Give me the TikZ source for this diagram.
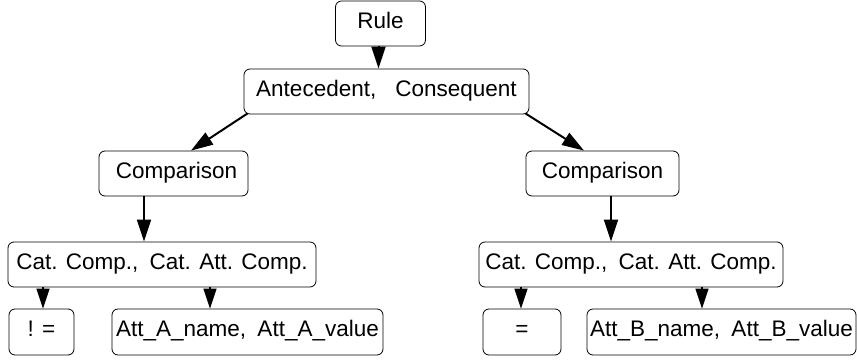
\documentclass[tikz,border=0pt]{standalone}
\usepackage{fontspec}
\setmainfont{Liberation Sans}
\usetikzlibrary{arrows.meta}

\begin{document}
\begin{tikzpicture}
            [x=1pt, y=-1pt,
             box/.style={draw, line width=0.8pt, rounded corners=6pt, inner sep=0pt,
                         minimum height=45pt, text height=15pt, text depth=6pt,
                         font=\fontsize{22.5}{27}\selectfont},
             arr/.style={line width=2pt, -{Triangle[length=22pt, width=14pt]}},
             smallarr/.style={line width=1.5pt, -{Triangle[length=20pt, width=13pt]}}]
            % Fix the page size
            \useasboundingbox (0,0) rectangle (857,362);

            % Place the boxes
            \node[box, minimum width=90pt] (rule) at (380.5, 23.5) {Rule};  % Top box
            \node[box, minimum width=285pt] (ante) at (386.5, 91.5) {Antecedent,\hspace{0.85em}Consequent};
            \node[box, minimum width=149pt] (cmpl) at (173.5, 173.5) {\hspace{6pt}Comparison};  % Left comparison
            \node[box, minimum width=153pt] (cmpr) at (602.5, 173.5) {Comparison\hspace{10pt}};  % Right comparison
            \node[box, minimum width=308pt] (catl) at (162, 264.5) {Cat. Comp.,\hspace{0.5em}Cat. Att. Comp.};
            \node[box, minimum width=304pt] (catr) at (631, 264.5) {Cat. Comp.,\hspace{0.5em}Cat. Att. Comp.};
            \node[box, minimum width=65pt, minimum height=46pt] (neql) at (41.5, 332) {! =};
            \node[box, minimum width=271pt, minimum height=46pt] (atta) at (247.5, 332) {Att\_A\_name,\hspace{0.5em}Att\_A\_value};
            \node[box, minimum width=78pt, minimum height=46pt] (eqr) at (522, 332) {=};
            \node[box, minimum width=269pt, minimum height=46pt] (attb) at (721.5, 332) {Att\_B\_name,\hspace{0.5em}Att\_B\_value};

            % Draw arrows
            \draw[arr] ([xshift=-2pt]rule.south) -- ([xshift=-2pt]rule.south |- ante.north);  % Rule to antecedent
            \draw[arr] ([xshift=4pt, yshift=1pt]ante.south west) -- ([xshift=17.5pt]cmpl.north);  % Left branch
            \draw[arr] ([xshift=-4pt, yshift=1pt]ante.south east) -- ([xshift=-18.5pt]cmpr.north);  % Right branch
            \draw[arr] ([xshift=-29.5pt]cmpl.south) -- ([xshift=-29.5pt]cmpl.south |- catl.north);
            \draw[arr] ([xshift=8.5pt]cmpr.south) -- ([xshift=8.5pt]cmpr.south |- catr.north);
            \draw[smallarr] ([xshift=1.5pt]neql.north |- catl.south) -- ([xshift=1.5pt]neql.north);
            \draw[smallarr] ([xshift=-37.5pt]atta.north |- catl.south) -- ([xshift=-37.5pt]atta.north);
            \draw[smallarr] ([xshift=-1pt]eqr.north |- catr.south) -- ([xshift=-1pt]eqr.north);
            \draw[smallarr] ([xshift=-19.5pt]attb.north |- catr.south) -- ([xshift=-19.5pt]attb.north);
        \end{tikzpicture}
\end{document}
